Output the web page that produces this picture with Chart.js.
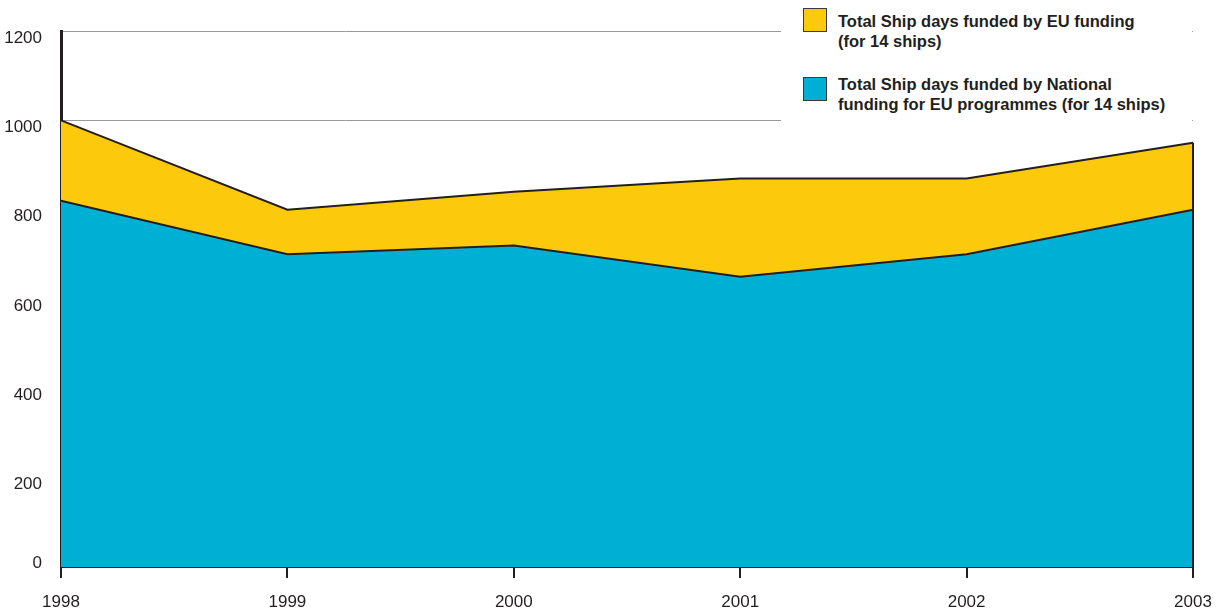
<!DOCTYPE html>
<html><head><meta charset="utf-8">
<script src="https://cdn.jsdelivr.net/npm/chart.js@4/dist/chart.umd.min.js"></script>
<style>
html,body{margin:0;padding:0;background:#fff;}
#wrap{position:relative;width:1218px;height:610px;}
#legend{position:absolute;left:781px;top:0;width:411px;height:124px;background:#fff;font-family:"Liberation Sans",Arial,sans-serif;font-weight:bold;font-size:16.5px;color:#231f20;}
.sw{position:absolute;left:22px;width:22px;height:22px;border:1px solid #3a3a3a;}
.txt{position:absolute;left:57px;line-height:20px;white-space:nowrap;}
</style>
</head><body>
<div id="wrap">
<canvas id="c" width="1218" height="610"></canvas>
<div id="legend">
  <div class="sw" style="top:8px;background:#fdc90c"></div>
  <div class="txt" style="top:11px">Total Ship days funded by EU funding<br>(for 14 ships)</div>
  <div class="sw" style="top:77px;background:#00b0d4"></div>
  <div class="txt" style="top:74px">Total Ship days funded by National<br>funding for EU programmes (for 14 ships)</div>
</div>
</div>
<script>
const years = ['1998','1999','2000','2001','2002','2003'];
const national = [820, 700, 720, 650, 700, 800];
const eu = [180, 100, 120, 220, 170, 150];
const yTicks = [0, 200, 400, 600, 800, 1000, 1200];

const edgePlugin = {
  id: 'edge',
  afterDatasetsDraw(chart) {
    const xs = chart.scales.x, ys = chart.scales.y, ctx = chart.ctx;
    const last = years.length - 1;
    ctx.save();
    ctx.strokeStyle = '#231f20';
    ctx.lineWidth = 2;
    ctx.beginPath();
    ctx.moveTo(xs.getPixelForValue(last), ys.getPixelForValue(national[last] + eu[last]));
    ctx.lineTo(xs.getPixelForValue(last), ys.getPixelForValue(0));
    ctx.stroke();
    ctx.restore();
  }
};

const fam = '"Liberation Sans",Arial,sans-serif';

new Chart(document.getElementById('c'), {
  type: 'line',
  data: {
    labels: years,
    datasets: [
      {label: 'National', data: national, backgroundColor: '#00b0d4', borderColor: '#231f20', borderWidth: 2, fill: 'origin', pointRadius: 0, tension: 0},
      {label: 'EU', data: eu, backgroundColor: '#fdc90c', borderColor: '#231f20', borderWidth: 2, fill: '-1', pointRadius: 0, tension: 0}
    ]
  },
  options: {
    responsive: false,
    animation: false,
    layout: {padding: {left: 0, right: 25, top: 31, bottom: 0}},
    plugins: {legend: {display: false}, tooltip: {enabled: false}},
    scales: {
      x: {
        z: 1,
        grid: {drawOnChartArea: false, drawTicks: true, tickLength: 11, color: '#231f20', lineWidth: 2},
        border: {color: '#231f20', width: 2},
        ticks: {color: '#231f20', font: {family: fam, size: 17}, padding: 14, maxRotation: 0, autoSkip: false},
        afterFit(s) { s.height = 43; s.paddingLeft = 0; s.paddingRight = 0; }
      },
      y: {
        stacked: true,
        min: 0, max: 1200,
        afterBuildTicks(s) { s.ticks = yTicks.map(v => ({value: v})); },
        grid: {color: '#9a9a9a', lineWidth: 1, drawTicks: false},
        border: {color: '#231f20', width: 3},
        ticks: {
          color: '#231f20', font: {family: fam, size: 17, lineHeight: 1.3}, padding: 19, labelOffset: 7,
          callback: v => v === 0 ? [String(v), ''] : String(v)
        },
        afterFit(s) { s.width = 61; s.paddingTop = 0; s.paddingBottom = 0; }
      }
    }
  },
  plugins: [edgePlugin]
});
</script>
</body></html>
